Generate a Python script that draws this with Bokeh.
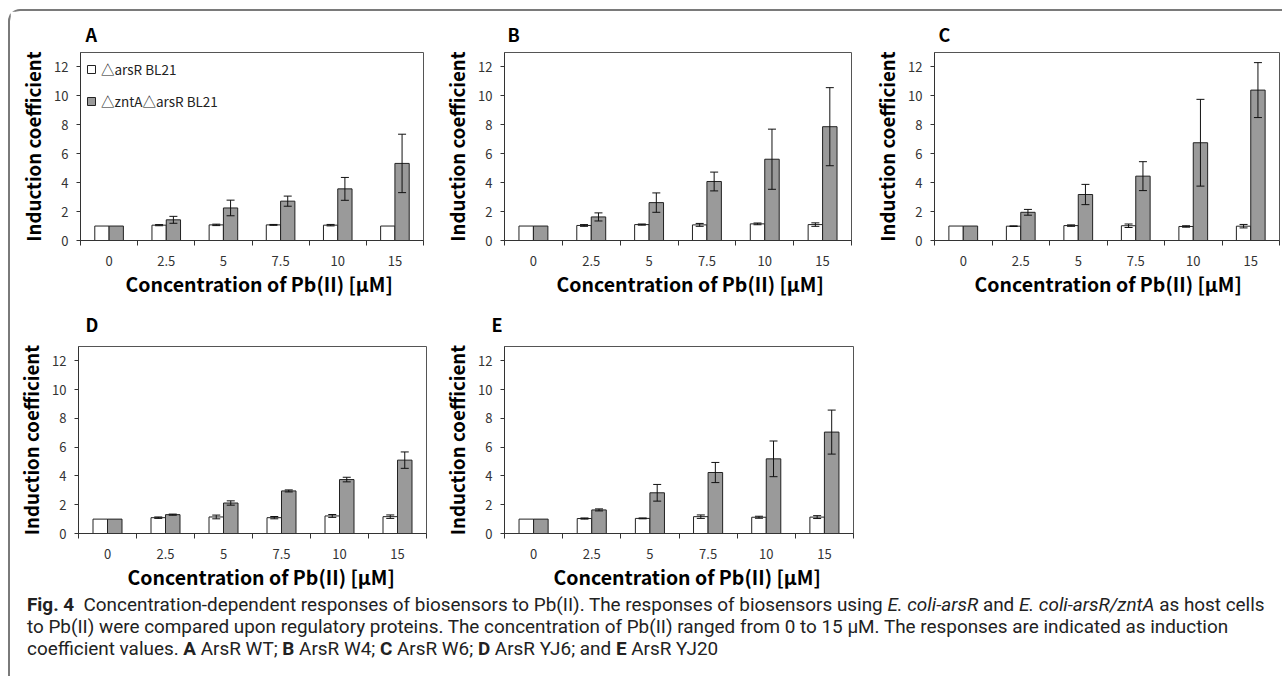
import numpy as np
from bokeh.plotting import figure
from bokeh.models import (Range1d, FixedTicker, ColumnDataSource, Whisker, TeeHead,
                          Legend, LegendItem, Div, Title)
from bokeh.layouts import row, column
from bokeh.embed import file_html
from bokeh.resources import INLINE

# ---------------- data ----------------
concentrations = ["0", "2.5", "5", "7.5", "10", "15"]
series_names = ["\u25b3arsR BL21", "\u25b3zntA\u25b3arsR BL21"]
y_ticks = [0, 2, 4, 6, 8, 10, 12]

A_arsR = [1.00, 1.06, 1.08, 1.08, 1.06, 1.00]
A_arsR_err = [0, 0.04, 0.05, 0.03, 0.05, 0]
A_zntA = [1.00, 1.43, 2.25, 2.72, 3.57, 5.33]
A_zntA_err = [0, 0.24, 0.54, 0.35, 0.79, 2.02]

B_arsR = [1.00, 1.04, 1.10, 1.08, 1.15, 1.10]
B_arsR_err = [0, 0.06, 0.04, 0.10, 0.06, 0.12]
B_zntA = [1.00, 1.63, 2.62, 4.08, 5.62, 7.87]
B_zntA_err = [0, 0.28, 0.67, 0.65, 2.08, 2.70]

C_arsR = [1.00, 0.99, 1.03, 1.02, 0.97, 0.99]
C_arsR_err = [0, 0.02, 0.05, 0.12, 0.05, 0.12]
C_zntA = [1.00, 1.95, 3.18, 4.45, 6.76, 10.40]
C_zntA_err = [0, 0.20, 0.70, 1.00, 3.00, 1.90]

D_arsR = [1.00, 1.10, 1.15, 1.10, 1.22, 1.17]
D_arsR_err = [0, 0.05, 0.13, 0.08, 0.10, 0.12]
D_zntA = [1.00, 1.31, 2.12, 2.96, 3.75, 5.10]
D_zntA_err = [0, 0.04, 0.15, 0.07, 0.16, 0.57]

E_arsR = [1.00, 1.04, 1.05, 1.17, 1.13, 1.14]
E_arsR_err = [0, 0.04, 0.03, 0.12, 0.07, 0.10]
E_zntA = [1.00, 1.64, 2.83, 4.24, 5.19, 7.05]
E_zntA_err = [0, 0.07, 0.58, 0.70, 1.24, 1.53]

x_label = "Concentration of Pb(II) [\u00b5M]"
y_label = "Induction coefficient"

FONT = "Noto Sans CJK KR"
GRAY = "#9a9a9a"
EDGE = "#222222"


def panel(letter, white, white_err, gray, gray_err, width, height,
          bl, br, bt, bb, title_offset, title_standoff, xlabel_offset, legend=False):
    p = figure(width=width, height=height, x_range=Range1d(0, 6), y_range=Range1d(0, 13),
               output_backend="svg", toolbar_location=None,
               min_border_left=bl, min_border_right=br, min_border_top=bt,
               min_border_bottom=bb)
    p.grid.visible = False
    p.outline_line_color = "#555555"
    p.outline_line_width = 1
    p.background_fill_color = "white"
    p.border_fill_color = "white"

    idx = np.arange(len(concentrations))
    xw = idx + 0.5 - 0.125
    xg = idx + 0.5 + 0.125
    rw = p.vbar(x=xw, top=white, bottom=0, width=0.25, fill_color="white",
                line_color=EDGE, line_width=1)
    rg = p.vbar(x=xg, top=gray, bottom=0, width=0.25, fill_color=GRAY,
                line_color=EDGE, line_width=1)

    for xs, vals, errs in ((xw, white, white_err), (xg, gray, gray_err)):
        v = np.array(vals)
        e = np.array(errs)
        m = e > 0
        src = ColumnDataSource(dict(base=xs[m], upper=(v + e)[m], lower=(v - e)[m]))
        w = Whisker(source=src, base="base", upper="upper", lower="lower",
                    line_color="#111111", line_width=1,
                    upper_head=TeeHead(size=8, line_color="#111111", line_width=1),
                    lower_head=TeeHead(size=8, line_color="#111111", line_width=1))
        w.level = "overlay"
        p.add_layout(w)

    # x axis: labels at centres, ticks at category boundaries
    xa = p.xaxis[0]
    xa.ticker = FixedTicker(ticks=list(idx + 0.5), minor_ticks=list(range(len(concentrations) + 1)))
    xa.major_label_overrides = {float(i + 0.5): c for i, c in enumerate(concentrations)}
    xa.major_tick_line_color = None
    xa.major_tick_out = 0
    xa.major_tick_in = 0
    xa.minor_tick_line_color = "#333333"
    xa.minor_tick_out = 5
    xa.minor_tick_in = 0
    xa.axis_line_color = "#333333"
    xa.major_label_text_font = FONT
    xa.major_label_text_font_size = "13px"
    xa.major_label_text_color = "#333333"
    xa.major_label_standoff = 10

    # x-axis title, placed like in the original figure
    xt = Title(text=x_label, align="left", offset=xlabel_offset, standoff=-4,
               text_font=FONT, text_font_style="bold", text_font_size="19.5px",
               text_color="black")
    p.add_layout(xt, "below")

    ya = p.yaxis[0]
    ya.ticker = FixedTicker(ticks=y_ticks, minor_ticks=[])
    ya.major_tick_out = 4
    ya.major_tick_in = 0
    ya.major_tick_line_color = "#333333"
    ya.axis_line_color = "#333333"
    ya.major_label_text_font = FONT
    ya.major_label_text_font_size = "13px"
    ya.major_label_text_color = "#333333"
    ya.major_label_standoff = 8
    ya.axis_label = y_label
    ya.axis_label_text_font = FONT
    ya.axis_label_text_font_style = "bold"
    ya.axis_label_text_font_size = "18.7px"
    ya.axis_label_text_color = "black"
    ya.axis_label_standoff = 5

    p.title.text = letter
    p.title.text_font = FONT
    p.title.text_font_style = "bold"
    p.title.text_font_size = "18px"
    p.title.text_color = "black"
    p.title.align = "left"
    p.title.offset = title_offset
    p.title.standoff = title_standoff

    if legend:
        lg = Legend(items=[LegendItem(label=series_names[0], renderers=[rw]),
                           LegendItem(label=series_names[1], renderers=[rg])],
                    location=(6, 129), border_line_color=None, background_fill_alpha=0,
                    label_text_font=FONT, label_text_font_size="13.5px",
                    label_text_color="#222222",
                    glyph_width=10, glyph_height=10, label_height=10,
                    label_standoff=5, spacing=12, padding=0, margin=0)
        p.add_layout(lg)
    return p


pA = panel("A", A_arsR, A_arsR_err, A_zntA, A_zntA_err, 430, 287, 70, 17, 41, 58, 5, 11, 45, legend=True)
pB = panel("B", B_arsR, B_arsR_err, B_zntA, B_zntA_err, 430, 287, 60, 19, 41, 58, 3, 11, 52)
pC = panel("C", C_arsR, C_arsR_err, C_zntA, C_zntA_err, 410, 287, 60, 1, 41, 58, 4, 11, 40)
pD = panel("D", D_arsR, D_arsR_err, D_zntA, D_zntA_err, 430, 295, 68, 14, 47, 60, 7, 20, 49)
pE = panel("E", E_arsR, E_arsR_err, E_zntA, E_zntA_err, 430, 295, 62, 17, 47, 60, -13, 20, 49)

caption_html = (
    '<div style="font-family:\'Roboto\',sans-serif;'
    'font-size:18.9px;line-height:22px;color:#222;white-space:nowrap;padding-left:12px;margin-top:-4px;">'
    '<b>Fig. 4</b>&nbsp; Concentration-dependent responses of biosensors to Pb(II). The responses of '
    'biosensors using <i>E. coli-arsR</i> and <i>E. coli-arsR/zntA</i> as host cells<br>'
    'to Pb(II) were compared upon regulatory proteins. The concentration of Pb(II) ranged from 0 to 15 '
    '\u00b5M. The responses are indicated as induction<br>'
    'coefficient values. <b>A</b> ArsR WT; <b>B</b> ArsR W4; <b>C</b> ArsR W6; <b>D</b> ArsR YJ6; '
    'and <b>E</b> ArsR YJ20</div>'
)
caption = Div(text=caption_html, width=1262, height=74)

layout = column(row(pA, pB, pC), row(pD, pE), caption,
                styles={"border-top": "2px solid #7a7a7a", "border-left": "2px solid #7a7a7a",
                        "border-top-left-radius": "12px",
                        "margin-left": "8px", "margin-top": "9px"})

open("out.html", "w").write(file_html(layout, INLINE))
